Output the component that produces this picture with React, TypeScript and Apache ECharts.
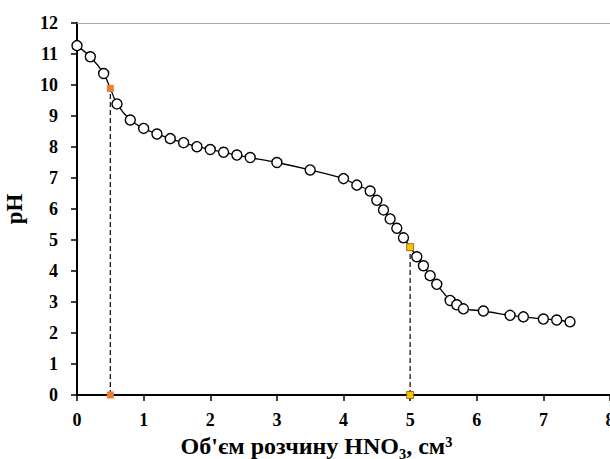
import React, { useEffect, useRef } from "react";
import * as echarts from "echarts";

const volume = [0, 0.2, 0.4, 0.5, 0.6, 0.8, 1.0, 1.2, 1.4, 1.6, 1.8, 2.0, 2.2, 2.4, 2.6, 3.0, 3.5, 4.0, 4.2, 4.4, 4.5, 4.6, 4.7, 4.8, 4.9, 5.0, 5.1, 5.2, 5.3, 5.4, 5.6, 5.7, 5.8, 6.1, 6.5, 6.7, 7.0, 7.2, 7.4];
const pH = [11.27, 10.91, 10.37, 9.89, 9.39, 8.87, 8.6, 8.42, 8.27, 8.14, 8.01, 7.92, 7.83, 7.74, 7.66, 7.5, 7.26, 6.98, 6.77, 6.58, 6.28, 5.97, 5.68, 5.38, 5.07, 4.77, 4.46, 4.17, 3.85, 3.57, 3.05, 2.91, 2.78, 2.71, 2.57, 2.52, 2.45, 2.42, 2.36];
// special points (equivalence points), drawn as squares
const eqVolume = [0.5, 5.0];
const eqPH = [9.89, 4.77];
const eqColors = ["#ED7D31", "#FFC000"];

const FONT = "Liberation Serif, Times New Roman, serif";

export default function App() {
  const ref = useRef<HTMLDivElement>(null);
  useEffect(() => {
    document.body.style.margin = "0";
    const chart = echarts.init(ref.current!, null, { renderer: "svg" });
    const mainData = volume.map((v, i) => {
      const isEq = eqVolume.indexOf(v) >= 0;
      return isEq ? { value: [v, pH[i]], symbol: "none" } : { value: [v, pH[i]] };
    });
    const series: any[] = [];
    eqVolume.forEach((v, k) => {
      series.push({
        type: "line",
        data: [[v, 0], [v, eqPH[k]]],
        symbol: "none",
        lineStyle: { color: "#000", width: 1.2, type: [5, 3] },
        z: 1,
      });
    });
    series.push({
      type: "line",
      data: mainData,
      smooth: 0.3,
      symbol: "circle",
      symbolSize: 10,
      lineStyle: { color: "#000", width: 1.3 },
      itemStyle: { color: "#fff", borderColor: "#000", borderWidth: 1.4 },
      z: 2,
    });
    eqVolume.forEach((v, k) => {
      series.push({
        type: "scatter",
        data: [[v, 0], [v, eqPH[k]]],
        symbol: "rect",
        symbolSize: 7,
        itemStyle: { color: eqColors[k], borderColor: k === 1 ? "#7f6000" : eqColors[k], borderWidth: k === 1 ? 0.8 : 0, opacity: 1 },
        z: 3,
      });
    });
    const labelStyle = { fontFamily: FONT, fontWeight: "bold", fontSize: 18, color: "#000" };
    chart.setOption({
      animation: false,
      textStyle: { fontFamily: FONT },
      grid: {
        left: 77,
        right: 0,
        top: 23,
        bottom: 64,
        outerBoundsMode: "none",
        containLabel: false,
        show: false,
      },
      xAxis: [
        {
          type: "value",
          min: 0,
          max: 8,
          interval: 1,
          name: "Об'єм розчину HNO₃, см³",
          nameLocation: "middle",
          nameGap: 39,
          nameTextStyle: { fontFamily: FONT, fontWeight: "bold", fontSize: 24, color: "#000", padding: [0, 54, 0, 0] },
          axisLine: { show: true, onZero: false, lineStyle: { color: "#000", width: 2 } },
          axisTick: { show: true, length: 6, lineStyle: { color: "#000", width: 1.5 } },
          axisLabel: { ...labelStyle, margin: 16 },
          splitLine: { show: false },
        },
        {
          type: "value",
          position: "top",
          min: 0,
          max: 8,
          interval: 1,
          axisLine: { show: true, onZero: false, lineStyle: { color: "#a6a6a6", width: 1 } },
          axisTick: { show: false },
          axisLabel: { show: false },
          splitLine: { show: false },
        },
      ],
      yAxis: {
        type: "value",
        min: 0,
        max: 12,
        interval: 1,
        name: "pH",
        nameLocation: "middle",
        nameGap: 51,
        nameTextStyle: { fontFamily: FONT, fontWeight: "bold", fontSize: 23, color: "#000" },
        axisLine: { show: true, onZero: false, lineStyle: { color: "#000", width: 2 } },
        axisTick: { show: true, length: 6, lineStyle: { color: "#000", width: 1.5 } },
        axisLabel: { ...labelStyle, margin: 19 },
        splitLine: { show: false },
      },
      series,
    });
    return () => chart.dispose();
  }, []);
  return <div ref={ref} style={{ width: 610, height: 459 }} />;
}
